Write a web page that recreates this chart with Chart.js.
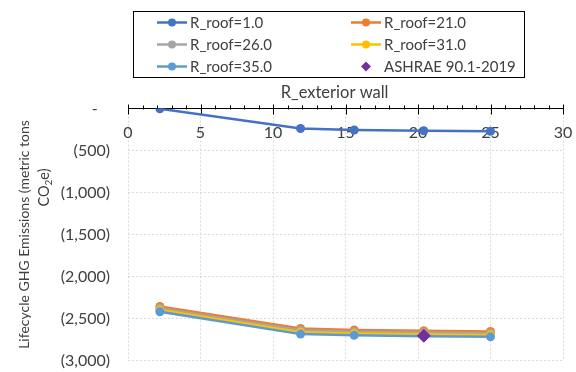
<!DOCTYPE html>
<html>
<head>
<meta charset="utf-8">
<script src="https://cdn.jsdelivr.net/npm/chart.js@4"></script>
<style>
  html, body { margin: 0; padding: 0; background: #fff; }
  canvas { display: block; }
</style>
</head>
<body>
<canvas id="c" width="576" height="372"></canvas>
<script>
// x values (R_exterior wall)
const xWall = [2.2, 11.9, 15.6, 20.4, 25.0];

// series (lifecycle GHG, metric tons CO2e)
const roof1  = [-3, -238, -256, -265, -271];
const roof21 = [-2357, -2619, -2637, -2646, -2655];
const roof26 = [-2378, -2640, -2658, -2668, -2676];
const roof31 = [-2400, -2664, -2680, -2690, -2697];
const roof35 = [-2420, -2686, -2700, -2712, -2718];

// ASHRAE baseline point
const ashraeX = [20.4];
const ashraeY = [-2705];

const seriesNames = ['R_roof=1.0', 'R_roof=21.0', 'R_roof=26.0', 'R_roof=31.0', 'R_roof=35.0', 'ASHRAE 90.1-2019'];
const seriesColors = ['#4472C4', '#ED7D31', '#A5A5A5', '#FFC000', '#5B9BD5', '#7030A0'];
const xTitle = 'R_exterior wall';

const FONT = 'Lato';
const TXT = '#404040';

function pts(xs, ys) {
    return xs.map((x, i) => ({ x: x, y: ys[i] }));
}

function lineSet(i, ys) {
    return {
        label: seriesNames[i],
        data: pts(xWall, ys),
        borderColor: seriesColors[i],
        backgroundColor: seriesColors[i],
        borderWidth: 2.5,
        pointRadius: 4.5,
        pointHoverRadius: 4.5,
        pointBorderWidth: 0,
        showLine: true,
        fill: false,
        order: 5 - i  // later series sit on top
    };
}

// tick marks on the x axis: major ones cross, minor ones sit above
const axisTicks = {
    id: 'axisTicks',
    beforeDatasetsDraw(chart) {
        const xs = chart.scales.x, ys = chart.scales.y;
        const y0 = Math.round(ys.getPixelForValue(0)) + 0.5;
        const ctx = chart.ctx;
        ctx.save();
        ctx.strokeStyle = '#000';
        ctx.lineWidth = 1;
        ctx.beginPath();
        for (let v = xs.min; v <= xs.max; v++) {
            const px = Math.round(xs.getPixelForValue(v)) + 0.5;
            if (v % 5 === 0) {
                ctx.moveTo(px, y0 - 5);
                ctx.lineTo(px, y0 + 5);
            } else {
                ctx.moveTo(px, y0 - 4);
                ctx.lineTo(px, y0);
            }
        }
        ctx.stroke();
        // axis title sits above the axis line
        ctx.fillStyle = TXT;
        ctx.font = '16.5px ' + FONT;
        ctx.textAlign = 'center';
        ctx.textBaseline = 'middle';
        ctx.fillText(xTitle, xs.getPixelForValue(14.25), y0 - 17);
        ctx.restore();
    }
};

// second line of the y title, with a subscript 2
const yTitle2 = {
    id: 'yTitle2',
    afterDraw(chart) {
        const ctx = chart.ctx;
        const a = chart.chartArea;
        ctx.save();
        ctx.translate(44, a.top + 79);
        ctx.rotate(-Math.PI / 2);
        ctx.fillStyle = TXT;
        ctx.textBaseline = 'middle';
        ctx.font = '14.5px ' + FONT;
        const w1 = ctx.measureText('CO').width;
        const w3 = ctx.measureText('e)').width;
        ctx.font = '10px ' + FONT;
        const w2 = ctx.measureText('2').width;
        let x = -(w1 + w2 + w3) / 2;
        ctx.textAlign = 'left';
        ctx.font = '14.5px ' + FONT;
        ctx.fillText('CO', x, 0);
        x += w1;
        ctx.font = '10px ' + FONT;
        ctx.fillText('2', x, 5);
        x += w2;
        ctx.font = '14.5px ' + FONT;
        ctx.fillText('e)', x, 0);
        ctx.restore();
    }
};

// boxed legend, two columns
const boxLegend = {
    id: 'boxLegend',
    afterDraw(chart) {
        const ctx = chart.ctx;
        ctx.save();
        ctx.strokeStyle = '#000';
        ctx.lineWidth = 1;
        ctx.strokeRect(133.5, 11.5, 391, 66);
        ctx.font = '15px ' + FONT;
        ctx.textBaseline = 'middle';
        ctx.textAlign = 'left';
        const colX = [172, 366];
        const rowY = [22.5, 44.5, 66.5];
        chart.data.datasets.forEach((ds, i) => {
            const cx = colX[i % 2];
            const cy = rowY[Math.floor(i / 2)];
            ctx.fillStyle = ds.backgroundColor;
            ctx.strokeStyle = ds.borderColor;
            if (ds.showLine) {
                ctx.lineWidth = 2.5;
                ctx.beginPath();
                ctx.moveTo(cx - 15, cy);
                ctx.lineTo(cx + 15, cy);
                ctx.stroke();
                ctx.beginPath();
                ctx.arc(cx, cy, 4, 0, Math.PI * 2);
                ctx.fill();
            } else {
                ctx.beginPath();
                ctx.moveTo(cx, cy - 5);
                ctx.lineTo(cx + 5, cy);
                ctx.lineTo(cx, cy + 5);
                ctx.lineTo(cx - 5, cy);
                ctx.closePath();
                ctx.fill();
            }
            ctx.fillStyle = TXT;
            ctx.fillText(ds.label, cx + 18, cy + 1);
        });
        ctx.restore();
    }
};

const chart = new Chart(document.getElementById('c'), {
    type: 'scatter',
    data: {
        datasets: [
            lineSet(0, roof1),
            lineSet(1, roof21),
            lineSet(2, roof26),
            lineSet(3, roof31),
            lineSet(4, roof35),
            {
                label: seriesNames[5],
                data: pts(ashraeX, ashraeY),
                backgroundColor: seriesColors[5],
                borderColor: seriesColors[5],
                pointStyle: 'rectRot',
                pointRadius: 7,
                pointHoverRadius: 7,
                pointBorderWidth: 0,
                showLine: false,
                order: 0
            }
        ]
    },
    options: {
        responsive: false,
        animation: false,
        devicePixelRatio: 1,
        layout: {
            padding: { top: 108.5, left: 0, right: 13, bottom: 11.5 }
        },
        plugins: {
            legend: { display: false },
            tooltip: { enabled: false },
            title: { display: false }
        },
        scales: {
            x: {
                type: 'linear',
                position: { y: 0 },
                min: 0,
                max: 30,
                ticks: {
                    stepSize: 5,
                    padding: 0,
                    color: TXT,
                    font: { family: FONT, size: 16 }
                },
                // invisible tick marks just push the labels down
                grid: { color: '#d9d9d9', drawTicks: true, tickLength: 15, tickWidth: 0 },
                border: { color: '#000', width: 1, dash: [2, 2] }
            },
            y: {
                min: -3000,
                max: 0,
                ticks: {
                    stepSize: 500,
                    padding: 0,
                    color: TXT,
                    font: { family: FONT, size: 16 },
                    callback: v => v === 0 ? '-   ' : '(' + Math.abs(v).toLocaleString('en-US') + ')'
                },
                grid: { color: '#d9d9d9', drawTicks: true, tickLength: 18, tickWidth: 0 },
                border: { display: false, dash: [2, 2] },
                title: {
                    display: true,
                    text: 'Lifecycle GHG Emissions (metric tons',
                    color: TXT,
                    font: { family: FONT, size: 14 },
                    padding: { top: 16, bottom: 0 }
                },
                afterFit: s => { s.width = 128; }
            }
        }
    },
    plugins: [axisTicks, yTitle2, boxLegend]
});
</script>
</body>
</html>
